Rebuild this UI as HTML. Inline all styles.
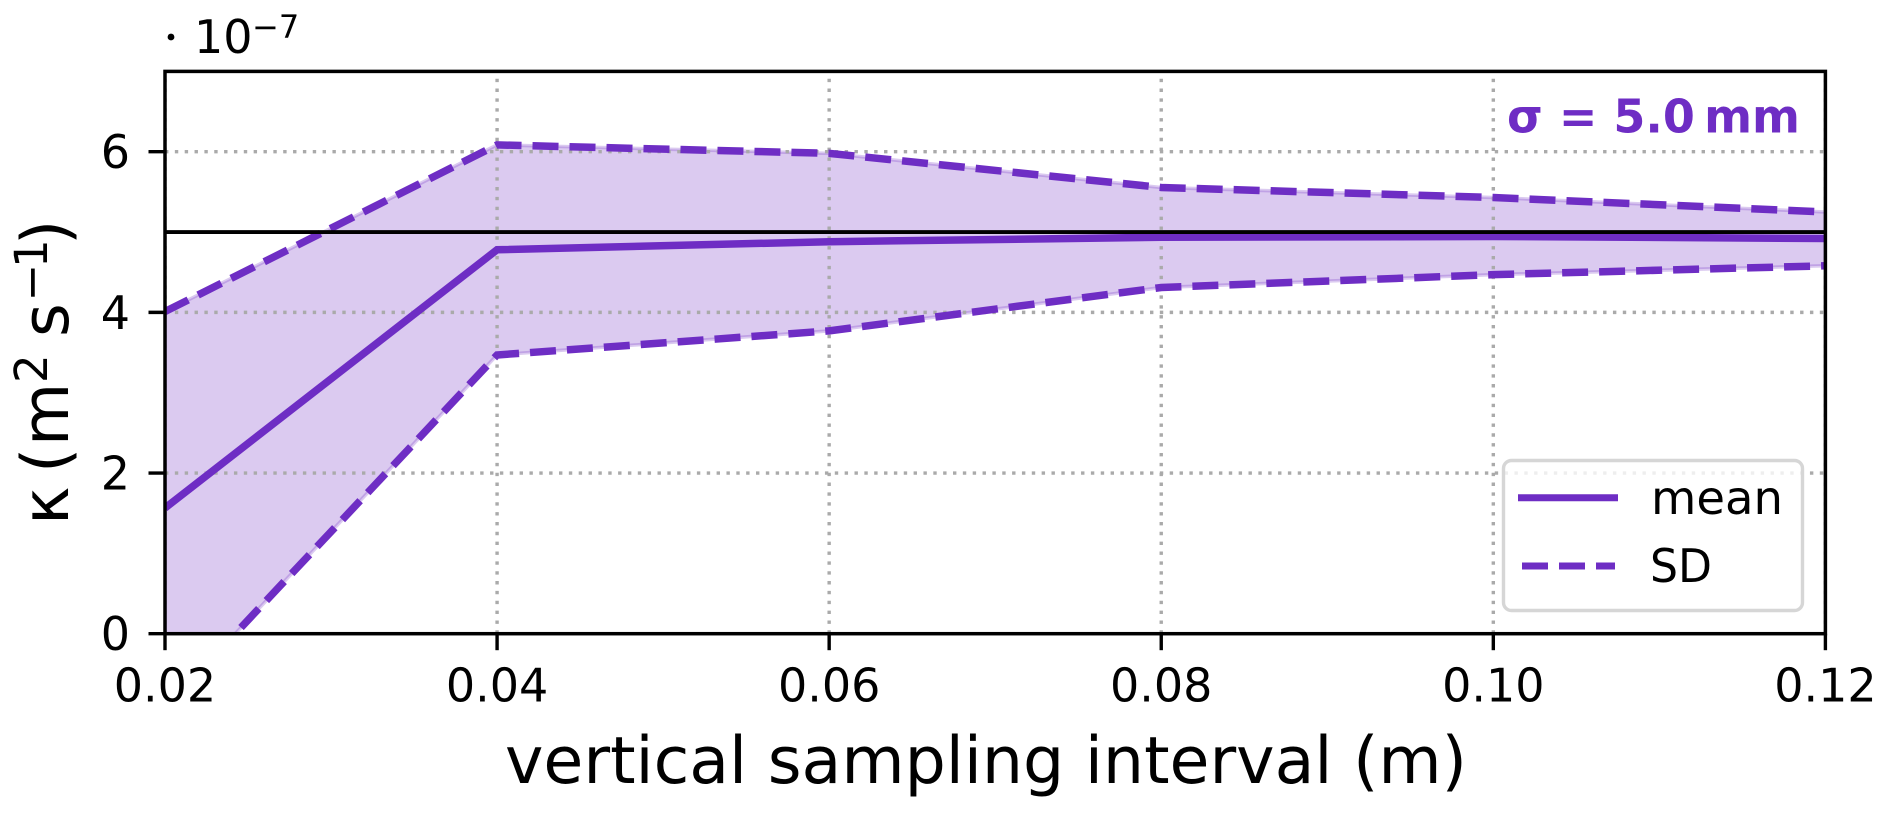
<!DOCTYPE html>
<html lang="en">
<head>
<meta charset="utf-8">
<title>Diffusivity vs vertical sampling interval</title>
<style>
  html, body { margin: 0; padding: 0; background: #fff; }
  svg { display: block; }
  text { font-family: "DejaVu Sans", "Liberation Sans", sans-serif; fill: #000; }
</style>
</head>
<body>
<svg id="chart" xmlns="http://www.w3.org/2000/svg" width="1892" height="816" viewBox="0 0 1892 816">
  <defs><clipPath id="plot-clip"><rect x="165" y="71" width="1660.5" height="563"></rect></clipPath></defs>
  <rect x="0" y="0" width="1892" height="816" fill="#fff"></rect>
  <g id="fill-layer" clip-path="url(#plot-clip)"></g>
  <g id="grid-layer" clip-path="url(#plot-clip)"></g>
  <g id="line-layer" clip-path="url(#plot-clip)"></g>
  <g id="axis-layer"></g>

  <text x="1507" y="132.7" font-size="46" font-weight="700" style="fill:#6e2dc4" textLength="293" lengthAdjust="spacingAndGlyphs">σ = 5.0&#8201;mm</text>

  <g>
    <rect x="1503.5" y="460.5" width="299" height="150" rx="8" ry="8" fill="#fff" fill-opacity="0.8" stroke="#d6d6d6" stroke-width="3.4"></rect>
    <line x1="1518" x2="1618" y1="497.7" y2="497.7" stroke="#6e2dc4" stroke-width="7"></line>
    <text x="1651" y="514" font-size="46" textLength="132" lengthAdjust="spacingAndGlyphs">mean</text>
    <line x1="1522" x2="1615" y1="566" y2="566" stroke="#6e2dc4" stroke-width="7" stroke-dasharray="26 11"></line>
    <text x="1650" y="582" font-size="46" textLength="62" lengthAdjust="spacingAndGlyphs">SD</text>
  </g>

  <g>
    <circle cx="171" cy="37" r="3.4" fill="#000"></circle>
    <text x="194" y="53" font-size="46">10</text>
    <text x="252" y="38" font-size="32">−7</text>
  </g>

  <text x="505" y="783" font-size="65" textLength="962" lengthAdjust="spacingAndGlyphs">vertical sampling interval (m)</text>

  <g transform="translate(68,525) rotate(-90)">
    <text x="0" y="0" font-size="65">κ</text>
    <text x="52" y="0" font-size="65">(</text>
    <text x="79" y="0" font-size="65">m</text>
    <text x="142" y="-21" font-size="45">2</text>
    <text x="188" y="0" font-size="65">s</text>
    <text x="223.5" y="-21" font-size="45">−</text>
    <text x="257" y="-21" font-size="45">1</text>
    <text x="280" y="0" font-size="65">)</text>
  </g>
</svg>
<script>
const intervals = [0.02, 0.04, 0.06, 0.08, 0.10, 0.12];
const meanValues = [1.565, 4.78, 4.88, 4.935, 4.945, 4.92];
const upperValues = [4.01, 6.085, 5.98, 5.555, 5.43, 5.25];
const lowerValues = [-0.93, 3.47, 3.77, 4.31, 4.47, 4.58];
const referenceValue = [5];
const xTickValues = [0.02, 0.04, 0.06, 0.08, 0.10, 0.12];
const xTickLabels = ['0.02', '0.04', '0.06', '0.08', '0.10', '0.12'];
const yTickValues = [0, 2, 4, 6];
const yTickLabels = ['0', '2', '4', '6'];

const plotLeft = 165, plotRight = 1825.4, plotTop = 71.4, plotBottom = 633.7;
const xMin = 0.02, xMax = 0.12, yMin = 0, yMax = 7;
const purple = '#6e2dc4';
const NS = 'http://www.w3.org/2000/svg';

function xScale(v) { return plotLeft + (v - xMin) / (xMax - xMin) * (plotRight - plotLeft); }
function yScale(v) { return plotBottom - (v - yMin) / (yMax - yMin) * (plotBottom - plotTop); }
function make(tag, parent, attrs) {
  const el = document.createElementNS(NS, tag);
  for (const k in attrs) el.setAttribute(k, attrs[k]);
  parent.appendChild(el);
  return el;
}
function pointsFor(values) {
  return values.map(function (v, i) { return xScale(intervals[i]).toFixed(2) + ',' + yScale(v).toFixed(2); });
}

const fillLayer = document.getElementById('fill-layer');
const gridLayer = document.getElementById('grid-layer');
const lineLayer = document.getElementById('line-layer');
const axisLayer = document.getElementById('axis-layer');

const band = make('polygon', fillLayer, {
  points: pointsFor(upperValues).concat(pointsFor(lowerValues).reverse()).join(' '),
  fill: purple, 'fill-opacity': 0.25, stroke: purple, 'stroke-opacity': 0.25, 'stroke-width': 3.5
});



yTickValues.forEach(function (v) {
  const g = make('line', gridLayer, {
    x1: plotLeft, x2: plotRight, y1: yScale(v), y2: yScale(v),
    stroke: '#aaaaaa', 'stroke-width': 3.4, 'stroke-dasharray': '3.4 6.45'
  });
  
  
});
xTickValues.forEach(function (v) {
  const g = make('line', gridLayer, {
    x1: xScale(v), x2: xScale(v), y1: plotBottom, y2: plotTop,
    stroke: '#aaaaaa', 'stroke-width': 3.4, 'stroke-dasharray': '3.4 6.45'
  });
  
  
});

const upperLine = make('polyline', lineLayer, {
  points: pointsFor(upperValues).join(' '), fill: 'none', stroke: purple,
  'stroke-width': 7.5, 'stroke-dasharray': '26 11'
});



const lowerLine = make('polyline', lineLayer, {
  points: pointsFor(lowerValues).join(' '), fill: 'none', stroke: purple,
  'stroke-width': 7.5, 'stroke-dasharray': '26 11'
});



const meanLine = make('polyline', lineLayer, {
  points: pointsFor(meanValues).join(' '), fill: 'none', stroke: purple, 'stroke-width': 7.5
});



const refLine = make('line', lineLayer, {
  x1: plotLeft, x2: plotRight, y1: yScale(referenceValue[0]), y2: yScale(referenceValue[0]),
  stroke: '#000', 'stroke-width': 3.9
});



const frame = make('rect', axisLayer, {
  x: plotLeft, y: plotTop, width: plotRight - plotLeft, height: plotBottom - plotTop,
  fill: 'none', stroke: '#000', 'stroke-width': 3.5
});



xTickValues.forEach(function (v, i) {
  const tick = make('line', axisLayer, {
    x1: xScale(v), x2: xScale(v), y1: plotBottom, y2: plotBottom + 16.5, stroke: '#000', 'stroke-width': 3.4
  });
  
  
  const label = make('text', axisLayer, {
    x: xScale(v), y: 701.5, 'font-size': 46, 'text-anchor': 'middle'
  });
  label.textContent = xTickLabels[i];
  
  
});
yTickValues.forEach(function (v, i) {
  const tick = make('line', axisLayer, {
    x1: plotLeft - 16.5, x2: plotLeft, y1: yScale(v), y2: yScale(v), stroke: '#000', 'stroke-width': 3.4
  });
  
  
  const label = make('text', axisLayer, {
    x: 130, y: yScale(v) + 16.5, 'font-size': 46, 'text-anchor': 'end'
  });
  label.textContent = yTickLabels[i];
  
  
});
</script>
</body>
</html>
